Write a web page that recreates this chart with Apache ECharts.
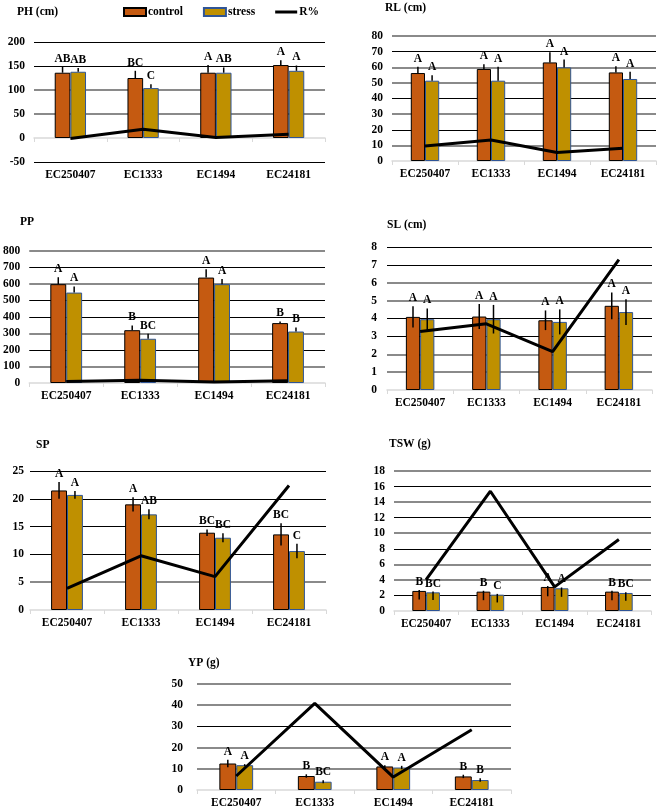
<!DOCTYPE html>
<html>
<head>
<meta charset="utf-8">
<script src="https://cdn.jsdelivr.net/npm/echarts@6/dist/echarts.min.js"></script>
<style>html,body{margin:0;padding:0;background:#fff;}#chart{width:660px;height:809px;}</style>
</head>
<body>
<div id="chart"></div>
<script>
const categories = ['EC250407', 'EC1333', 'EC1494', 'EC24181'];
const seriesNames = ['control', 'stress', 'R%'];

// PH (cm)
const phTicks = [-50, 0, 50, 100, 150, 200];
const phControl = [136, 125, 136, 152];
const phStress = [138, 104, 136, 140];
const phControlErr = [12, 15, 16, 10];
const phStressErr = [8, 8, 11, 11];
const phR = [-1, 18, 1, 8];
const phControlLetters = ['AB', 'BC', 'A', 'A'];
const phStressLetters = ['AB', 'C', 'AB', 'A'];

// RL (cm)
const rlTicks = [0, 10, 20, 30, 40, 50, 60, 70, 80];
const rlControl = [56.3, 58.9, 63.1, 56.7];
const rlStress = [51.4, 51.4, 59.9, 52.5];
const rlControlErr = [4, 3, 6.5, 4];
const rlStressErr = [3.5, 9, 5, 4.7];
const rlR = [9.6, 13.4, 5.5, 8.1];
const rlControlLetters = ['A', 'A', 'A', 'A'];
const rlStressLetters = ['A', 'A', 'A', 'A'];

// PP
const ppTicks = [0, 100, 200, 300, 400, 500, 600, 700, 800];
const ppControl = [599, 320, 639, 363];
const ppStress = [548, 268, 599, 312];
const ppControlErr = [42, 29, 50, 10];
const ppStressErr = [37, 30, 32, 25];
const ppR = [8.5, 16, 6, 14];
const ppControlLetters = ['A', 'B', 'A', 'B'];
const ppStressLetters = ['A', 'BC', 'A', 'B'];

// SL (cm)
const slTicks = [0, 1, 2, 3, 4, 5, 6, 7, 8];
const slControl = [4.09, 4.11, 3.9, 4.71];
const slStress = [3.96, 3.96, 3.81, 4.36];
const slControlErr = [0.6, 0.7, 0.55, 0.75];
const slStressErr = [0.6, 0.8, 0.7, 0.72];
const slR = [3.27, 3.7, 2.15, 7.29];
const slControlLetters = ['A', 'A', 'A', 'A'];
const slStressLetters = ['A', 'A', 'A', 'A'];

// SP
const spTicks = [0, 5, 10, 15, 20, 25];
const spControl = [21.5, 19.0, 13.9, 13.6];
const spStress = [20.7, 17.2, 13.0, 10.6];
const spControlErr = [1.5, 1.3, 0.6, 2.0];
const spStressErr = [0.7, 0.9, 0.8, 1.3];
const spR = [3.9, 9.75, 6.0, 22.4];
const spControlLetters = ['A', 'A', 'BC', 'BC'];
const spStressLetters = ['A', 'AB', 'BC', 'C'];

// TSW (g)
const tswTicks = [0, 2, 4, 6, 8, 10, 12, 14, 16, 18];
const tswControl = [2.58, 2.49, 3.09, 2.49];
const tswStress = [2.4, 2.1, 2.92, 2.32];
const tswControlErr = [1.1, 1.1, 1.2, 1.1];
const tswStressErr = [1.0, 1.0, 1.1, 1.0];
const tswR = [4.04, 15.4, 3.1, 9.2];
const tswControlLetters = ['B', 'B', 'A', 'B'];
const tswStressLetters = ['BC', 'C', 'A', 'BC'];

// YP (g)
const ypTicks = [0, 10, 20, 30, 40, 50];
const ypControl = [12.5, 6.6, 11.1, 6.4];
const ypStress = [11.7, 3.9, 10.6, 4.7];
const ypControlErr = [1.8, 0.8, 0.6, 0.8];
const ypStressErr = [0.5, 0.7, 0.8, 0.8];
const ypR = [6.6, 40.9, 6.1, 28.4];
const ypControlLetters = ['A', 'B', 'A', 'B'];
const ypStressLetters = ['A', 'BC', 'A', 'B'];

const panels = [
  {title: 'PH (cm)', ticks: phTicks, ctrl: phControl, stress: phStress, ctrlErr: phControlErr, stressErr: phStressErr, r: phR, ctrlL: phControlLetters, stressL: phStressLetters},
  {title: 'RL (cm)', ticks: rlTicks, ctrl: rlControl, stress: rlStress, ctrlErr: rlControlErr, stressErr: rlStressErr, r: rlR, ctrlL: rlControlLetters, stressL: rlStressLetters},
  {title: 'PP', ticks: ppTicks, ctrl: ppControl, stress: ppStress, ctrlErr: ppControlErr, stressErr: ppStressErr, r: ppR, ctrlL: ppControlLetters, stressL: ppStressLetters},
  {title: 'SL (cm)', ticks: slTicks, ctrl: slControl, stress: slStress, ctrlErr: slControlErr, stressErr: slStressErr, r: slR, ctrlL: slControlLetters, stressL: slStressLetters},
  {title: 'SP', ticks: spTicks, ctrl: spControl, stress: spStress, ctrlErr: spControlErr, stressErr: spStressErr, r: spR, ctrlL: spControlLetters, stressL: spStressLetters},
  {title: 'TSW (g)', ticks: tswTicks, ctrl: tswControl, stress: tswStress, ctrlErr: tswControlErr, stressErr: tswStressErr, r: tswR, ctrlL: tswControlLetters, stressL: tswStressLetters},
  {title: 'YP (g)', ticks: ypTicks, ctrl: ypControl, stress: ypStress, ctrlErr: ypControlErr, stressErr: ypStressErr, r: ypR, ctrlL: ypControlLetters, stressL: ypStressLetters}
];

// layout / style (positions in px)
const layouts = [
  {left: 34, top: 42, width: 291, height: 120, tx: 17, ty: 6, ym: 9, lines: 'bnggbb', err: [1, 0]},
  {left: 392, top: 36, width: 264, height: 125, tx: 385, ty: 2, ym: 9, lines: 'ngbgbggbg', err: [1, 0]},
  {left: 27, top: 251, width: 298, height: 132, tx: 20, ty: 216, ym: 9, lines: 'ngbgbbgbg', err: [1, 0]},
  {left: 387, top: 247, width: 265, height: 143, tx: 387, ty: 219, ym: 10, lines: 'nggbbggbb', err: [1, 1]},
  {left: 30, top: 471, width: 296, height: 139, tx: 36, ty: 439, ym: 6, lines: 'ngbbbb', err: [1, 1]},
  {left: 394, top: 471, width: 257, height: 140, tx: 389, ty: 438, ym: 9, lines: 'nbggbgbgbg', err: [0.1, 1]},
  {left: 197, top: 684, width: 314, height: 107, tx: 188, ty: 657, ym: 14, lines: 'nggbgg', err: [1, 1]}
];

const FONT = '"Liberation Serif", "Times New Roman", serif';
const FS = 11.5;
const BAR_W = 0.215;
const CTRL_COLOR = '#C55A11';
const STRESS_COLOR = '#BF9000';

const option = {
  animation: false,
  backgroundColor: '#ffffff',
  title: [],
  grid: [],
  xAxis: [],
  yAxis: [],
  series: [],
  legend: {
    left: 123, top: 6, padding: 0,
    itemWidth: 22, itemHeight: 8, itemGap: 20,
    textStyle: {fontFamily: FONT, fontWeight: 'bold', fontSize: FS, color: '#000', padding: [0, 0, 0, -3]},
    data: [
      {name: seriesNames[0], icon: 'rect'},
      {name: seriesNames[1], icon: 'rect'},
      {name: seriesNames[2], icon: 'path://M0,0L22,0L22,3L0,3Z'}
    ]
  }
};

panels.forEach((p, i) => {
  const L = layouts[i];
  const min = p.ticks[0], max = p.ticks[p.ticks.length - 1], interval = p.ticks[1] - p.ticks[0];
  const kinds = L.lines.split('');
  option.title.push({text: p.title, left: L.tx, top: L.ty, padding: 0,
    textStyle: {fontFamily: FONT, fontWeight: 'bold', fontSize: FS, color: '#000'}});
  option.grid.push({left: L.left, top: L.top, width: L.width, height: L.height, containLabel: false});
  option.xAxis.push({
    type: 'category', gridIndex: i, data: categories,
    axisLine: {onZero: true, lineStyle: {color: '#d9d9d9', width: 1.5}},
    axisTick: {show: true, length: 4, lineStyle: {color: '#d9d9d9'}},
    axisLabel: {interval: 0, hideOverlap: false, margin: 7, color: '#000', fontFamily: FONT, fontWeight: 'bold', fontSize: FS},
    splitLine: {show: false}
  });
  option.yAxis.push({
    type: 'value', gridIndex: i, min: min, max: max, interval: interval,
    axisLine: {show: false}, axisTick: {show: false},
    axisLabel: {margin: L.ym, color: '#000', fontFamily: FONT, fontWeight: 'bold', fontSize: FS},
    splitLine: {show: true, lineStyle: {width: 1, color: kinds.map(k => k === 'b' ? '#000000' : 'rgba(0,0,0,0)')}}
  });
  option.yAxis.push({
    type: 'value', gridIndex: i, min: min, max: max, interval: interval, position: 'left',
    axisLine: {show: false}, axisTick: {show: false}, axisLabel: {show: false},
    splitLine: {show: true, lineStyle: {width: 2, color: kinds.map(k => k === 'g' ? '#8a8a8a' : 'rgba(0,0,0,0)')}}
  });
  const yi = 2 * i;
  option.series.push({
    name: 'control', type: 'bar', xAxisIndex: i, yAxisIndex: yi, data: p.ctrl,
    barWidth: (BAR_W * 100) + '%', barGap: '0%',
    itemStyle: {color: CTRL_COLOR, borderColor: '#000', borderWidth: 1}, z: 2
  });
  option.series.push({
    name: 'stress', type: 'bar', xAxisIndex: i, yAxisIndex: yi, data: p.stress,
    barWidth: (BAR_W * 100) + '%', barGap: '0%',
    itemStyle: {color: STRESS_COLOR, borderColor: '#2F5597', borderWidth: 1}, z: 2
  });
  option.series.push({
    type: 'custom', xAxisIndex: i, yAxisIndex: yi, silent: true, z: 3,
    data: categories.map((c, k) => [k, p.ctrl[k]]),
    encode: {x: 0, y: 1},
    renderItem: function (params, api) {
      const k = params.dataIndex;
      const band = api.size([1, 0])[0];
      const w = band * BAR_W;
      const children = [];
      [[p.ctrl, p.ctrlErr, p.ctrlL, -w / 2], [p.stress, p.stressErr, p.stressL, w / 2]].forEach(function (s) {
        const v = s[0][k], e = s[1][k];
        const hi = v + e * L.err[0], lo = v - e * L.err[1];
        const pHi = api.coord([k, hi]);
        const pLo = api.coord([k, lo]);
        const pV = api.coord([k, v]);
        const x = pHi[0] + s[3];
        children.push({type: 'line', shape: {x1: x, y1: pHi[1], x2: x, y2: pLo[1]},
          style: {stroke: '#000', lineWidth: 1.5}});
        const top = Math.min(pHi[1], pV[1]);
        children.push({type: 'text', style: {text: s[2][k], x: x, y: top - 2, align: 'center', verticalAlign: 'bottom',
          fill: '#000', font: 'bold ' + FS + 'px ' + FONT}});
      });
      return {type: 'group', children: children};
    }
  });
  option.series.push({
    name: 'R%', type: 'line', xAxisIndex: i, yAxisIndex: yi, data: p.r,
    symbol: 'none', showSymbol: false,
    lineStyle: {color: '#000', width: 3}, itemStyle: {color: '#000'}, z: 4
  });
});

const chart = echarts.init(document.getElementById('chart'), null, {renderer: 'canvas'});
chart.setOption(option);
</script>
</body>
</html>
